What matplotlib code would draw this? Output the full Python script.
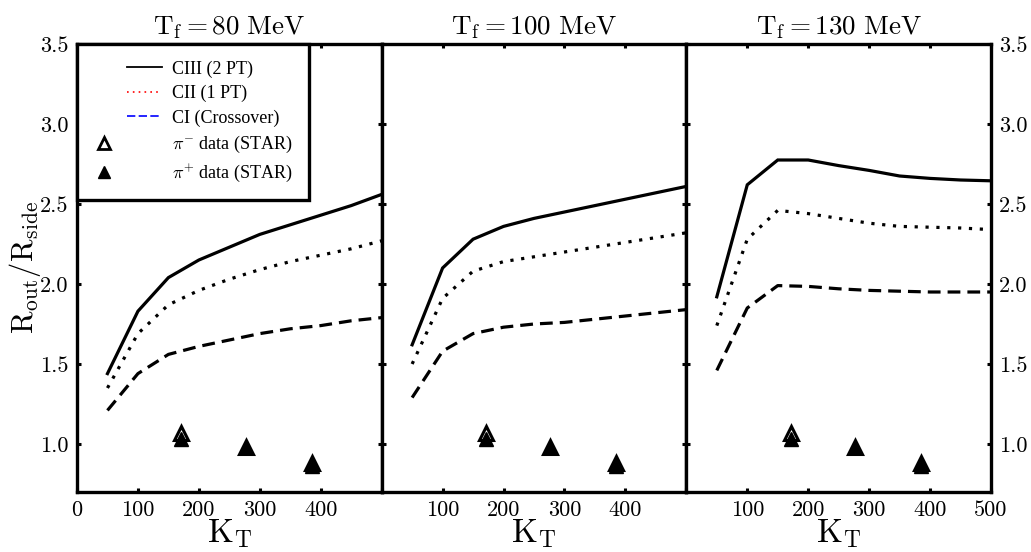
import matplotlib
matplotlib.use("Agg")
import matplotlib.pyplot as plt
from matplotlib.lines import Line2D
from matplotlib.legend_handler import HandlerBase

plt.rcParams['font.family'] = ['cmr10', 'DejaVu Serif']
plt.rcParams['mathtext.fontset'] = 'cm'
plt.rcParams['axes.formatter.use_mathtext'] = True

# ---------------- data ----------------
kt = [50, 100, 150, 200, 250, 300, 350, 400, 450, 500]
titles = [r'$\mathrm{T_f = 80\ MeV}$', r'$\mathrm{T_f = 100\ MeV}$', r'$\mathrm{T_f = 130\ MeV}$']

ciii_80 = [1.44, 1.83, 2.04, 2.15, 2.23, 2.31, 2.37, 2.43, 2.49, 2.56]
cii_80 = [1.35, 1.69, 1.87, 1.96, 2.03, 2.09, 2.14, 2.18, 2.22, 2.27]
ci_80 = [1.21, 1.44, 1.56, 1.61, 1.65, 1.69, 1.72, 1.74, 1.77, 1.79]

ciii_100 = [1.62, 2.10, 2.28, 2.36, 2.41, 2.45, 2.49, 2.53, 2.57, 2.61]
cii_100 = [1.50, 1.91, 2.08, 2.14, 2.17, 2.20, 2.23, 2.26, 2.29, 2.32]
ci_100 = [1.29, 1.58, 1.69, 1.73, 1.75, 1.76, 1.78, 1.80, 1.82, 1.84]

ciii_130 = [1.92, 2.62, 2.775, 2.775, 2.74, 2.71, 2.675, 2.66, 2.65, 2.645]
cii_130 = [1.74, 2.28, 2.46, 2.44, 2.41, 2.38, 2.36, 2.355, 2.35, 2.34]
ci_130 = [1.46, 1.85, 1.99, 1.985, 1.97, 1.96, 1.955, 1.95, 1.95, 1.95]

star_kt = [171, 277, 385]
star_pim = [1.07, 0.98, 0.88]
star_pip = [1.03, 0.98, 0.86]

xticks = [0, 100, 200, 300, 400, 500]
yticks = [1.0, 1.5, 2.0, 2.5, 3.0, 3.5]
ytick_labels = ['1.0', '1.5', '2.0', '2.5', '3.0', '3.5']

labels = ['CIII (2 PT)', 'CII (1 PT)', 'CI (Crossover)',
          r'$\pi^{-}$ data (STAR)', r'$\pi^{+}$ data (STAR)']

panels = [(ciii_80, cii_80, ci_80), (ciii_100, cii_100, ci_100), (ciii_130, cii_130, ci_130)]

# ---------------- figure ----------------
fig = plt.figure(figsize=(10.31, 5.52), dpi=100)
left, right = 77 / 1031, 991 / 1031
bottom, top = 1 - 492 / 552, 1 - 44 / 552
w = (right - left) / 3
axes = [fig.add_axes([left + i * w, bottom, w, top - bottom]) for i in range(3)]

lw = 2.3
for i, (ax, (c3, c2, c1)) in enumerate(zip(axes, panels)):
    ax.plot(kt, c3, color='black', lw=lw, ls='-', solid_joinstyle='miter')
    ax.plot(kt, c2, color='black', lw=lw, ls=(0, (1, 2.4)))
    ax.plot(kt, c1, color='black', lw=lw, ls=(0, (4, 2.2)))
    ax.plot(star_kt, star_pim, ls='none', marker='^', ms=10, mfc='white',
            mec='black', mew=2.2)
    ax.plot(star_kt, star_pip, ls='none', marker='^', ms=10, mfc='black',
            mec='black', mew=1.0)
    ax.set_xlim(0, 500)
    ax.set_ylim(0.7, 3.5)
    ax.set_xticks(xticks)
    ax.set_yticks(yticks)
    ax.tick_params(direction='in', length=3, width=2.2, top=True, right=True,
                   labelsize=16, pad=6)
    for s in ax.spines.values():
        s.set_linewidth(2.4)
    ax.set_title(titles[i], fontsize=19.5, pad=7)
    ax.set_xlabel(r'$\mathrm{K_T}$', fontsize=24, labelpad=-2)
    if i == 0:
        ax.set_xticklabels(['0', '100', '200', '300', '400', ''])
        ax.set_yticklabels(ytick_labels)
        ax.set_ylabel(r'$\mathrm{R_{out}/R_{side}}$', fontsize=22)
        ax.yaxis.set_label_coords(-0.112, 0.5)
    elif i == 1:
        ax.set_xticklabels(['', '100', '200', '300', '400', ''])
        ax.set_yticklabels([])
    else:
        ax.set_xticklabels(['', '100', '200', '300', '400', '500'])
        ax.yaxis.tick_right()
        ax.tick_params(axis='y', left=True, right=True, labelleft=False,
                       labelright=True)
        ax.set_yticklabels(ytick_labels)


class LineHandler(HandlerBase):
    def __init__(self, f0, f1):
        super().__init__()
        self.f0, self.f1 = f0, f1

    def create_artists(self, legend, orig, xd, yd, width, height, fontsize, trans):
        y = (height - yd) / 2
        ln = Line2D([self.f0 * width - xd, self.f1 * width - xd], [y, y])
        self.update_prop(ln, orig, legend)
        ln.set_transform(trans)
        return [ln]


class MarkerHandler(HandlerBase):
    def __init__(self, f):
        super().__init__()
        self.f = f

    def create_artists(self, legend, orig, xd, yd, width, height, fontsize, trans):
        y = (height - yd) / 2
        ln = Line2D([self.f * width - xd], [y], ls='none')
        self.update_prop(ln, orig, legend)
        ln.set_transform(trans)
        return [ln]


h_ciii = Line2D([], [], color='black', lw=1.3, ls='-')
h_cii = Line2D([], [], color='red', lw=1.2, ls=(0, (1, 2.5)))
h_ci = Line2D([], [], color='blue', lw=1.2, ls=(0, (5, 2)))
h_pim = Line2D([], [], ls='none', marker='^', ms=8, mfc='white', mec='black', mew=2.0)
h_pip = Line2D([], [], ls='none', marker='^', ms=8, mfc='black', mec='black')

leg = axes[0].legend([h_ciii, h_cii, h_ci, h_pim, h_pip], labels,
                     loc='upper left', borderaxespad=0,
                     prop={'family': ['Liberation Serif'], 'size': 13},
                     handlelength=3.8, handletextpad=0.55, labelspacing=0.4,
                     borderpad=0.9, fancybox=False, framealpha=1,
                     handler_map={h_ciii: LineHandler(0.49, 1.0),
                                  h_cii: LineHandler(0.49, 1.0),
                                  h_ci: LineHandler(0.49, 1.0),
                                  h_pim: MarkerHandler(0.155),
                                  h_pip: MarkerHandler(0.155)})
leg.get_frame().set_edgecolor('black')
leg.get_frame().set_linewidth(2.4)

fig.savefig('out.png', dpi=100)
